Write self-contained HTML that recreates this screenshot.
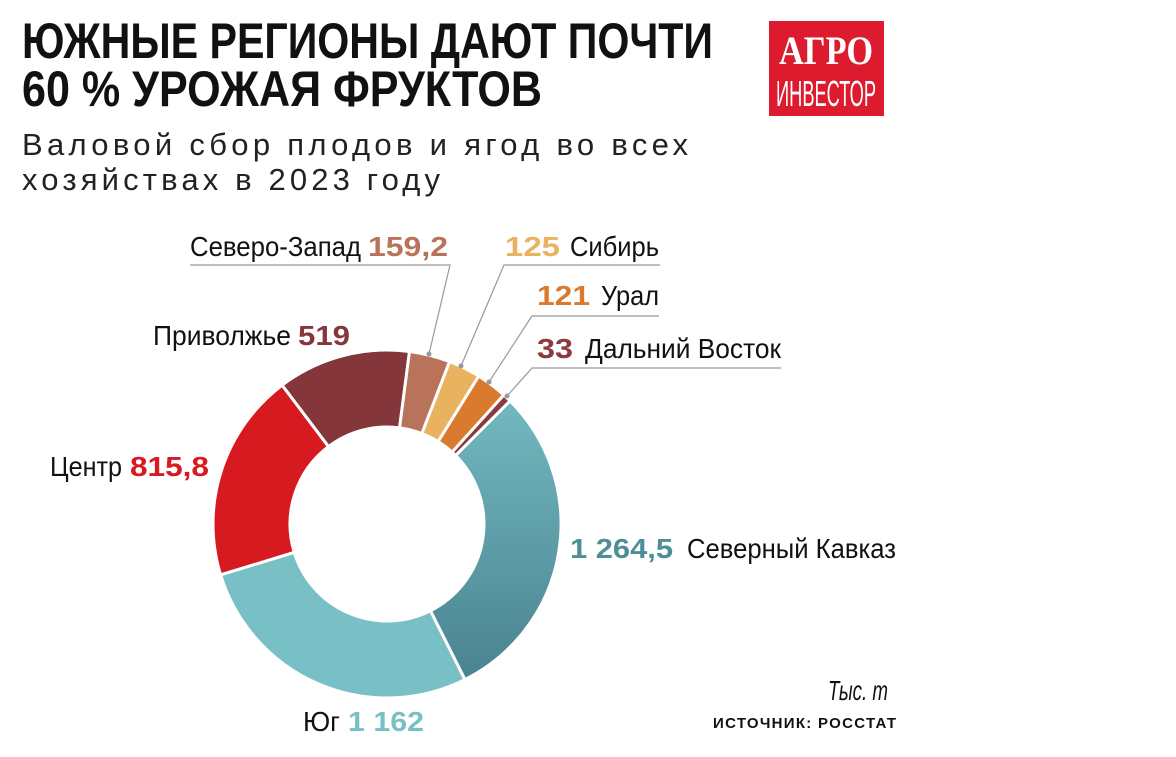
<!DOCTYPE html>
<html><head><meta charset="utf-8"><style>
html,body{margin:0;padding:0;background:#fff}
svg{display:block}
text{font-family:"Liberation Sans Narrow","Liberation Sans",sans-serif}
</style></head><body>
<svg width="1176" height="757" viewBox="0 0 1176 757" xmlns="http://www.w3.org/2000/svg">
<defs>
<linearGradient id="g" x1="0" y1="0" x2="0" y2="1">
<stop offset="0" stop-color="#72b8bf"/><stop offset="1" stop-color="#4a8390"/>
</linearGradient>
</defs>
<text x="22" y="58" font-size="50" font-weight="bold" textLength="691" lengthAdjust="spacingAndGlyphs" fill="#111">ЮЖНЫЕ РЕГИОНЫ ДАЮТ ПОЧТИ</text>
<text x="22" y="106" font-size="50" font-weight="bold" textLength="520" lengthAdjust="spacingAndGlyphs" fill="#111">60 % УРОЖАЯ ФРУКТОВ</text>
<text x="22" y="155" font-size="31" textLength="666" lengthAdjust="spacing" fill="#222">Валовой сбор плодов и ягод во всех</text>
<text x="22" y="190" font-size="31" textLength="418" lengthAdjust="spacing" fill="#222">хозяйствах в 2023 году</text>
<rect x="769" y="21" width="115" height="95" fill="#dc1c2e"/>
<text x="826" y="64" font-size="40" font-weight="bold" text-anchor="middle" textLength="94" lengthAdjust="spacingAndGlyphs" fill="#fff" style="font-family:'Liberation Serif',serif">АГРО</text>
<text x="826" y="106" font-size="36" text-anchor="middle" textLength="100" lengthAdjust="spacingAndGlyphs" fill="#fff">ИНВЕСТОР</text>
<g stroke="#fff" stroke-width="3" stroke-linejoin="miter">
<path d="M510.04,400.96 A174 174 0 0 1 464.90,679.59 L430.43,610.74 A97 97 0 0 0 455.59,455.41 Z" fill="url(#g)"/>
<path d="M464.90,679.59 A174 174 0 0 1 220.60,574.84 L294.24,552.34 A97 97 0 0 0 430.43,610.74 Z" fill="#79c0c6"/>
<path d="M220.60,574.84 A174 174 0 0 1 282.13,385.15 L328.54,446.59 A97 97 0 0 0 294.24,552.34 Z" fill="#d71920"/>
<path d="M282.13,385.15 A174 174 0 0 1 409.50,351.46 L399.54,427.82 A97 97 0 0 0 328.54,446.59 Z" fill="#84363a"/>
<path d="M409.50,351.46 A174 174 0 0 1 449.59,361.64 L421.89,433.49 A97 97 0 0 0 399.54,427.82 Z" fill="#b8735a"/>
<path d="M449.59,361.64 A174 174 0 0 1 478.70,376.12 L438.12,441.56 A97 97 0 0 0 421.89,433.49 Z" fill="#e8b25e"/>
<path d="M478.70,376.12 A174 174 0 0 1 503.81,395.03 L452.12,452.10 A97 97 0 0 0 438.12,441.56 Z" fill="#d97a2e"/>
<path d="M503.81,395.03 A174 174 0 0 1 510.04,400.96 L455.59,455.41 A97 97 0 0 0 452.12,452.10 Z" fill="#8b3a3e"/>
</g>
<g stroke="#999" stroke-width="1.2" fill="none">
<polyline points="429,354 450,265 190,265"/>
<polyline points="461,366 504,265 660,265"/>
<polyline points="489,382 532,316 659,316"/>
<polyline points="507,396 532,368 781,368"/>
</g>
<g fill="#999"><circle cx="429" cy="354" r="2.5"/><circle cx="461" cy="366" r="2.5"/><circle cx="489" cy="382" r="2.5"/><circle cx="507" cy="396" r="2.5"/></g>
<g font-size="28">
<text x="190" y="256" fill="#111" textLength="171" lengthAdjust="spacingAndGlyphs">Северо-Запад</text>
<text x="368" y="256" fill="#b8735a" font-weight="bold" textLength="80" lengthAdjust="spacingAndGlyphs">159,2</text>
<text x="505" y="256" fill="#e8b25e" font-weight="bold" textLength="55" lengthAdjust="spacingAndGlyphs">125</text>
<text x="570" y="256" fill="#111" textLength="89" lengthAdjust="spacingAndGlyphs">Сибирь</text>
<text x="537" y="305" fill="#d97a2e" font-weight="bold" textLength="53" lengthAdjust="spacingAndGlyphs">121</text>
<text x="601" y="305" fill="#111" textLength="58" lengthAdjust="spacingAndGlyphs">Урал</text>
<text x="537" y="358" fill="#8b3a3e" font-weight="bold" textLength="36" lengthAdjust="spacingAndGlyphs">33</text>
<text x="585" y="358" fill="#111" textLength="196" lengthAdjust="spacingAndGlyphs">Дальний Восток</text>
<text x="153" y="345" fill="#111" textLength="138" lengthAdjust="spacingAndGlyphs">Приволжье</text>
<text x="298" y="345" fill="#84363a" font-weight="bold" textLength="52" lengthAdjust="spacingAndGlyphs">519</text>
<text x="50" y="476" fill="#111" textLength="72" lengthAdjust="spacingAndGlyphs">Центр</text>
<text x="130" y="476" fill="#d71920" font-weight="bold" textLength="79" lengthAdjust="spacingAndGlyphs">815,8</text>
<text x="570" y="558" fill="#4f8d98" font-weight="bold" textLength="103" lengthAdjust="spacingAndGlyphs">1 264,5</text>
<text x="687" y="558" fill="#111" textLength="209" lengthAdjust="spacingAndGlyphs">Северный Кавказ</text>
<text x="303" y="731" fill="#111" textLength="37" lengthAdjust="spacingAndGlyphs">Юг</text>
<text x="348" y="731" fill="#79c0c6" font-weight="bold" textLength="76" lengthAdjust="spacingAndGlyphs">1 162</text>
<text x="828" y="700" fill="#111" font-style="italic" textLength="60" lengthAdjust="spacingAndGlyphs">Тыс. т</text>
</g>
<text x="713" y="728" font-size="15" font-weight="bold" fill="#111" textLength="183" lengthAdjust="spacing">ИСТОЧНИК: РОССТАТ</text>
</svg>
</body></html>
